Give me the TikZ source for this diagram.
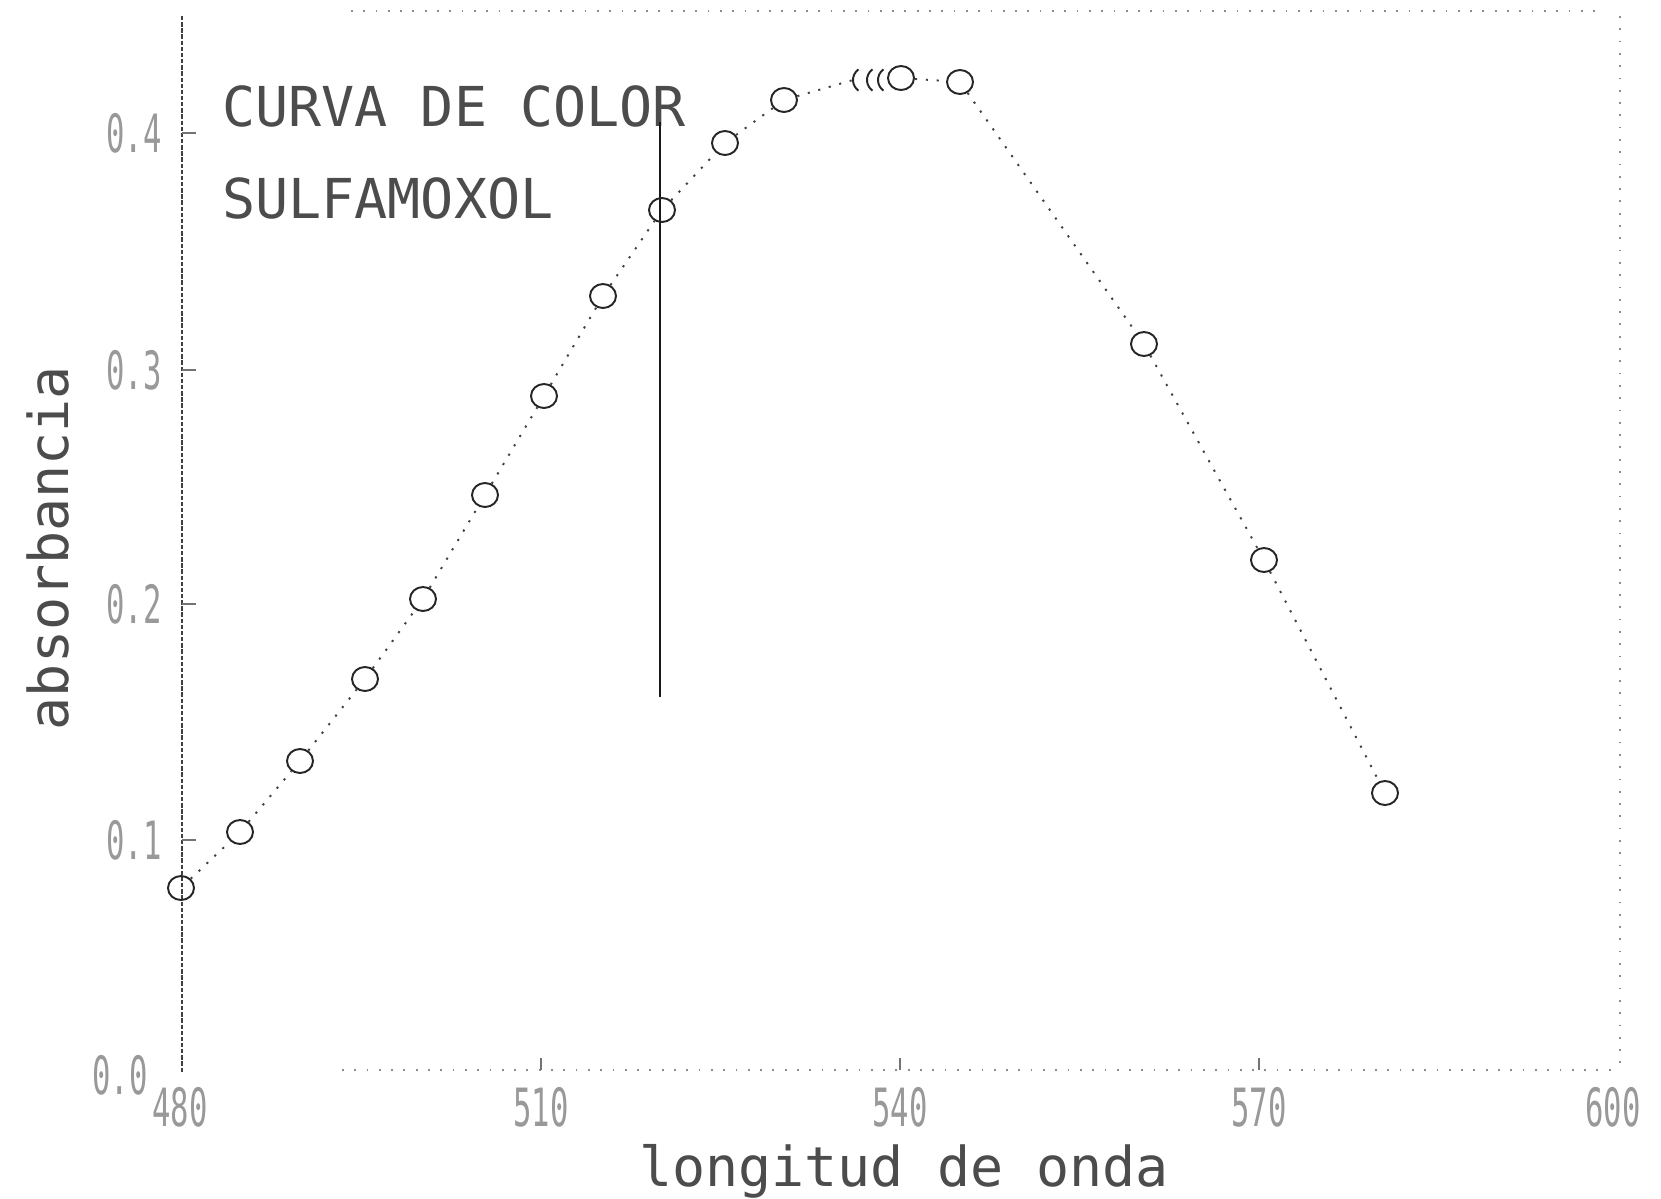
\documentclass[tikz,border=0pt]{standalone}
\usepackage{fontspec}
\usetikzlibrary{shapes.geometric}
\newfontfamily\plotmono{DejaVu Sans Mono}
\begin{document}
\begin{tikzpicture}[x=0.02cm,y=-0.02cm,
  pt/.style={ellipse,draw=black!85,line width=1.1pt,minimum width=0.52cm,minimum height=0.48cm,inner sep=0pt},
  conn/.style={draw=black!75,line width=1.1pt,dash pattern=on 1.2pt off 5pt},
  ticklab/.style={text=black!40,font=\plotmono\fontsize{30}{32}\selectfont,xscale=0.58,inner sep=0pt},
  bigtext/.style={font=\plotmono\fontsize{31.3}{36}\selectfont,text=black!70,inner sep=0pt},
  yaxisline/.style={draw=black!75,line width=1.1pt,dash pattern=on 2.5pt off 1pt},
  faintline/.style={draw=black!45,line width=0.8pt,dash pattern=on 1pt off 6pt},
  tickmark/.style={draw=black!55,line width=0.8pt}]
\useasboundingbox (0,0) rectangle (1661,1198);
\fill[white] (0,0) rectangle (1661,1198);

% frame
\draw[yaxisline] (182,16) -- (182,1072);
\draw[faintline] (351,11) -- (1600,11);
\draw[faintline] (1620,16) -- (1620,1070);
\draw[faintline] (342,1070) -- (1620,1070);
\foreach \yy in {133,370,604,840} \draw[tickmark] (182,\yy) -- (196,\yy);
\foreach \xx in {541,900,1259} \draw[tickmark] (\xx,1070) -- (\xx,1058);

% tick labels
\node[ticklab] (y4) at (134,133) {0.4};
\node[ticklab] (y3) at (134,370) {0.3};
\node[ticklab] (y2) at (134,604) {0.2};
\node[ticklab] (y1) at (134,840) {0.1};
\node[ticklab] (y0) at (120,1075) {0.0};
\node[ticklab] (x480) at (180,1107) {480};
\node[ticklab] (x510) at (541,1107) {510};
\node[ticklab] (x540) at (900,1107) {540};
\node[ticklab] (x570) at (1259,1107) {570};
\node[ticklab] (x600) at (1613,1107) {600};

% titles
\node[bigtext,anchor=base west] (t1) at (222,126) {CURVA DE COLOR};
\node[bigtext,anchor=base west] (t2) at (222,218) {SULFAMOXOL};
\node[bigtext,anchor=base] (xlab) at (904,1186) {longitud de onda};
\node[bigtext,anchor=base,rotate=90] (ylab) at (69,548) {absorbancia};

% vertical marker line
\coordinate (v1) at (660,122);
\coordinate (v2) at (660,697);
\draw[line width=1.7pt,black!90] (v1) -- (v2);

% data points
\node[pt] (p1) at (181,888) {};
\node[pt] (p2) at (240,832) {};
\node[pt] (p3) at (300,761) {};
\node[pt] (p4) at (365,679) {};
\node[pt] (p5) at (423,599) {};
\node[pt] (p6) at (485,495) {};
\node[pt] (p7) at (544,396) {};
\node[pt] (p8) at (603,296) {};
\node[pt] (p9) at (662,210) {};
\node[pt] (p10) at (725,143) {};
\node[pt] (p11) at (784,100) {};
\coordinate (c1) at (853,80);
\node[pt] (p12) at (901,78) {};
\node[pt] (p13) at (960,82) {};
\node[pt] (p14) at (1144,344) {};
\node[pt] (p15) at (1264,560) {};
\node[pt] (p16) at (1385,793) {};

% partial circles of the crowded points
\foreach \cx in {866,880,891}
  \draw[black!85,line width=1.1pt] ([shift={(125:0.26cm)}]\cx,80) arc[start angle=125,end angle=235,radius=0.26cm];

% connectors
\foreach \a/\b in {p1/p2,p2/p3,p3/p4,p4/p5,p5/p6,p6/p7,p7/p8,p8/p9,p9/p10,p10/p11,p11/c1,p12/p13,p13/p14,p14/p15,p15/p16}
  \draw[conn] (\a) -- (\b);
\end{tikzpicture}
\end{document}
